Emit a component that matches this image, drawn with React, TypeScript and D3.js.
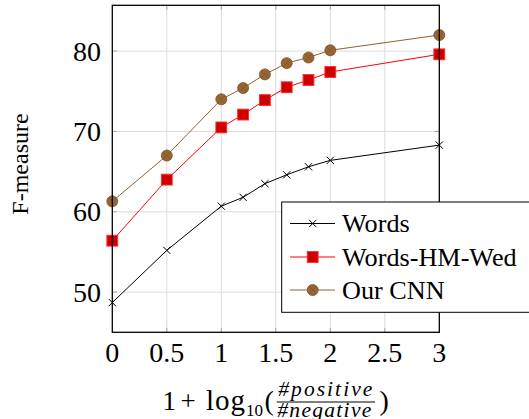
import * as d3 from 'd3'
import { useEffect, useRef } from 'react'

// x positions: 1 + log10(#pos/#neg)
const ratios = [0, 0.5, 1, 1.2, 1.4, 1.6, 1.8, 2, 3]
const wordsValues = [48.7, 55.2, 60.7, 61.8, 63.5, 64.6, 65.6, 66.4, 68.3]
const hmWedValues = [56.4, 64.0, 70.5, 72.1, 73.9, 75.5, 76.4, 77.4, 79.6]
const cnnValues = [61.3, 67.0, 74.0, 75.4, 77.1, 78.5, 79.2, 80.1, 82.0]
const seriesNames = ['Words', 'Words-HM-Wed', 'Our CNN']
const xTicks = [0, 0.5, 1, 1.5, 2, 2.5, 3]
const yTicks = [50, 60, 70, 80]

const WIDTH = 529
const HEIGHT = 419
const MARGIN = { TOP: 5.3, RIGHT: 89.7, BOTTOM: 86.7, LEFT: 112.3 }
const SERIF = '"Liberation Serif", "Times New Roman", serif'

const STYLES = [
  { line: '#000000', marker: 'cross', fill: 'none', stroke: '#000000' },
  { line: '#ff0000', marker: 'square', fill: '#cc0000', stroke: '#ff2a2a' },
  { line: '#8f6232', marker: 'otimes', fill: '#996633', stroke: '#7a5128' },
]

const drawMarker = (g: any, kind: string, cx: number, cy: number, st: any) => {
  if (kind === 'cross') {
    const h = 3.6
    g.append('path')
      .attr('d', `M${cx - h},${cy - h}L${cx + h},${cy + h}M${cx - h},${cy + h}L${cx + h},${cy - h}`)
      .attr('stroke', st.stroke).attr('stroke-width', 1).attr('fill', 'none')
  } else if (kind === 'square') {
    const s = 5.4
    g.append('rect')
      .attr('x', cx - s).attr('y', cy - s).attr('width', 2 * s).attr('height', 2 * s)
      .attr('fill', st.fill).attr('stroke', st.stroke).attr('stroke-width', 1)
  } else {
    const r = 5.5
    g.append('circle')
      .attr('cx', cx).attr('cy', cy).attr('r', r)
      .attr('fill', st.fill).attr('stroke', st.stroke).attr('stroke-width', 0.8)
    const h = r * 0.7
    g.append('path')
      .attr('d', `M${cx - h},${cy - h}L${cx + h},${cy + h}M${cx - h},${cy + h}L${cx + h},${cy - h}`)
      .attr('stroke', st.stroke).attr('stroke-width', 0.7).attr('fill', 'none')
  }
}

const drawChart = (node: SVGSVGElement) => {
  const svg = d3.select(node)
  svg.selectAll('*').remove()

  const x = d3.scaleLinear().domain([0, 3]).range([MARGIN.LEFT, WIDTH - MARGIN.RIGHT])
  const y = d3.scaleLinear().domain([45, 85.7]).range([HEIGHT - MARGIN.BOTTOM, MARGIN.TOP])
  const [x0, x1] = x.range()
  const [y0, y1] = y.range()

  // grid
  const grid = svg.append('g').attr('stroke', '#dcdcdc').attr('stroke-width', 1)
  xTicks.slice(1, -1).forEach(t => {
    grid.append('line').attr('x1', x(t)).attr('x2', x(t)).attr('y1', y1).attr('y2', y0)
  })
  yTicks.forEach(t => {
    grid.append('line').attr('x1', x0).attr('x2', x1).attr('y1', y(t)).attr('y2', y(t))
  })

  // inner tick marks (both sides)
  const tk = svg.append('g').attr('stroke', '#a6a6a6').attr('stroke-width', 1)
  xTicks.slice(1, -1).forEach(t => {
    tk.append('line').attr('x1', x(t)).attr('x2', x(t)).attr('y1', y0).attr('y2', y0 - 4.5)
    tk.append('line').attr('x1', x(t)).attr('x2', x(t)).attr('y1', y1).attr('y2', y1 + 4.5)
  })
  yTicks.forEach(t => {
    tk.append('line').attr('x1', x0).attr('x2', x0 + 4.5).attr('y1', y(t)).attr('y2', y(t))
    tk.append('line').attr('x1', x1).attr('x2', x1 - 4.5).attr('y1', y(t)).attr('y2', y(t))
  })

  // series
  const allValues = [wordsValues, hmWedValues, cnnValues]
  const line = d3.line<number>().x((_d, i) => x(ratios[i])).y(d => y(d))
  allValues.forEach((vals, si) => {
    const st = STYLES[si]
    const g = svg.append('g')
    g.append('path').datum(vals).attr('d', line)
      .attr('fill', 'none').attr('stroke', st.line).attr('stroke-width', 1)
    vals.forEach((v, i) => drawMarker(g, st.marker, x(ratios[i]), y(v), st))
  })

  // axis box
  svg.append('rect')
    .attr('x', x0).attr('y', y1).attr('width', x1 - x0).attr('height', y0 - y1)
    .attr('fill', 'none').attr('stroke', '#000').attr('stroke-width', 1.3)

  // tick labels
  svg.append('g').selectAll('text').data(xTicks).join('text')
    .attr('x', d => x(d)).attr('y', 361.5)
    .attr('text-anchor', 'middle')
    .attr('font-family', SERIF).attr('font-size', 28)
    .text(d => String(d))
  svg.append('g').selectAll('text').data(yTicks).join('text')
    .attr('x', 101).attr('y', d => y(d) + 9.5)
    .attr('text-anchor', 'end')
    .attr('font-family', SERIF).attr('font-size', 28)
    .text(d => String(d))

  // y label
  svg.append('text')
    .attr('transform', 'translate(28,164) rotate(-90)')
    .attr('text-anchor', 'middle')
    .attr('font-family', SERIF).attr('font-size', 24)
    .text('F-measure')

  // x label: 1 + log10(#positive / #negative)
  const xl = svg.append('g').attr('font-family', SERIF)
  const part = (txt: string, px: number, py: number, size: number, len?: number, italic = false) => {
    const t = xl.append('text').attr('x', px).attr('y', py).attr('font-size', size)
      .attr('font-style', italic ? 'italic' : 'normal')
      .text(txt)
    if (len) t.attr('textLength', len).attr('lengthAdjust', 'spacing')
  }
  part('1', 162.5, 409.5, 27)
  part('+', 180.5, 409.5, 27)
  part('log', 206, 409.5, 29, 39)
  part('10', 246, 416, 17)
  part('(', 264.5, 409.5, 28)
  part('#positive', 278.3, 395.5, 21.5, 94, true)
  xl.append('line').attr('x1', 276.7).attr('x2', 375).attr('y1', 402).attr('y2', 402)
    .attr('stroke', '#000').attr('stroke-width', 1.1)
  part('#negative', 277.3, 416.5, 21.5, 94, true)
  part(')', 379.5, 409.5, 28)

  // legend
  const lg = svg.append('g')
  lg.append('rect')
    .attr('x', 281.7).attr('y', 202).attr('width', 260).attr('height', 110.3)
    .attr('fill', '#fff').attr('stroke', '#000').attr('stroke-width', 1)
  const rowY = [223.5, 257, 290]
  seriesNames.forEach((name, i) => {
    const st = STYLES[i]
    lg.append('line').attr('x1', 290).attr('x2', 335).attr('y1', rowY[i]).attr('y2', rowY[i])
      .attr('stroke', st.line).attr('stroke-width', 1)
    drawMarker(lg, st.marker, 312.7, rowY[i], st)
    lg.append('text').attr('x', 342).attr('y', rowY[i] + 8.5)
      .attr('font-family', SERIF).attr('font-size', 26.2)
      .text(name)
  })
}

export default function App() {
  const ref = useRef<SVGSVGElement>(null)

  useEffect(() => {
    if (ref.current) drawChart(ref.current)
  }, [])

  return (
    <svg
      ref={ref}
      width={WIDTH}
      height={HEIGHT}
      style={{ position: 'absolute', left: 0, top: 0, background: '#fff' }}
    />
  )
}
